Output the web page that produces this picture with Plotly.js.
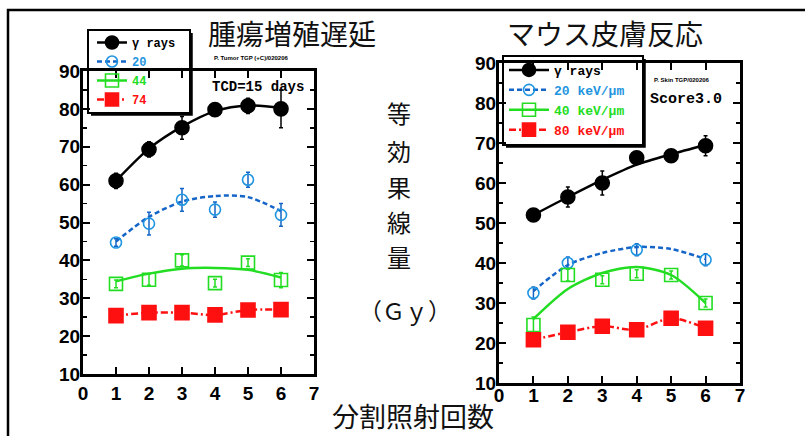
<!DOCTYPE html>
<html><head><meta charset="utf-8">
<script src="https://cdn.plot.ly/plotly-3.0.1.min.js"></script>
<style>html,body{margin:0;padding:0;background:#fff}#chart{width:805px;height:436px}</style>
</head><body><div id="chart"></div>
<script>
// ---------- data ----------
const fractions = [1, 2, 3, 4, 5, 6];
const xTicks = [0, 1, 2, 3, 4, 5, 6, 7];
const yTicks = [10, 20, 30, 40, 50, 60, 70, 80, 90];

// Left panel: tumour growth delay (TCD = 15 days)
const tumorGamma    = [61, 69.3, 75, 79.8, 80.8, 80];
const tumorGammaErr = [2, 2, 3, 1.5, 2, 5];
const tumorGammaFit = [61, 69.5, 75.3, 79.4, 80.9, 80.2];
const tumor20       = [44.7, 49.7, 56, 53.4, 61.3, 52];
const tumor20Err    = [1, 3, 3, 2, 2, 3];
const tumor20Fit    = [45, 51.5, 55.5, 57, 56.7, 53];
const tumor44       = [33.8, 34.9, 40, 34, 39.4, 34.8];
const tumor44Err    = [1, 1.5, 1.5, 1, 1, 2];
const tumor44Fit    = [34.5, 36.5, 37.8, 38, 37.5, 35.5];
const tumor74       = [25.4, 26.2, 26.2, 25.6, 26.9, 27];

// Right panel: mouse skin reaction (score 3.0)
const skinGamma    = [52, 56.5, 60, 66.3, 66.8, 69.3];
const skinGammaErr = [1, 2.5, 3, 1, 1.5, 2.5];
const skinGammaFit = [52, 56.5, 60.8, 64.6, 67.2, 69.5];
const skin20       = [32.5, 40, null, 43.3, null, 40.8];
const skin20Err    = [1.5, 1.5, null, 1.5, null, 1.5];
const skin20Fit    = [33, 39.5, 42.5, 44, 43.5, 41];
const skin40       = [24.5, 37, 35.8, 37.3, 37, 30];
const skin40Err    = [2, 1.5, 1, 1, 1, 1];
const skin40Fit    = [26, 33.5, 37.5, 39, 37, 30];
const skin80       = [20.8, 22.7, 24.2, 23.3, 26.2, 23.7];

const tumorNames = ['γ rays', '20', '44', '74'];
const skinNames  = ['γ rays', '20 keV/μm', '40 keV/μm', '80 keV/μm'];

// ---------- styles ----------
const W = 805, H = 436;
const px = x => x / W, py = y => 1 - y / H;
const BLACK = '#000000', BLUE = '#1f95e0', BLUEL = '#1565c8', GREEN = '#22dd22', RED = '#ff1010';
const DASH = '5px,3px', DASHDOT = '7px,3px,2px,3px';

const styles = [
  {color: BLACK, dash: 'solid', sym: 'circle', size: 14, lc: BLACK},
  {color: BLUE, dash: DASH, sym: 'circle-open', size: 11, lc: BLUEL},
  {color: GREEN, dash: 'solid', sym: 'square-open', size: 13, lc: GREEN},
  {color: RED, dash: DASHDOT, sym: 'square', size: 14, lc: RED}
];

const traces = [];
function addSeries(xa, ya, vals, errs, fit, st) {
  const lineY = fit || vals;
  traces.push({
    x: fractions, y: lineY, xaxis: xa, yaxis: ya, mode: 'lines', showlegend: false,
    line: {color: st.lc, width: 2.5, dash: st.dash, shape: 'spline', smoothing: 0.8},
    hoverinfo: 'skip'
  });
  const t = {
    x: fractions, y: vals, xaxis: xa, yaxis: ya, mode: 'markers', showlegend: false,
    marker: {symbol: st.sym, size: st.size, color: st.color, line: {color: st.color, width: 1.6}}
  };
  if (errs) t.error_y = {type: 'data', array: errs, visible: true, color: st.lc, thickness: 1.5, width: 2};
  traces.push(t);
}
addSeries('x', 'y', tumorGamma, tumorGammaErr, tumorGammaFit, styles[0]);
addSeries('x', 'y', tumor20, tumor20Err, tumor20Fit, styles[1]);
addSeries('x', 'y', tumor44, tumor44Err, tumor44Fit, styles[2]);
addSeries('x', 'y', tumor74, null, null, styles[3]);
addSeries('x2', 'y2', skinGamma, skinGammaErr, skinGammaFit, styles[0]);
addSeries('x2', 'y2', skin20, skin20Err, skin20Fit, styles[1]);
addSeries('x2', 'y2', skin40, skin40Err, skin40Fit, styles[2]);
addSeries('x2', 'y2', skin80, null, null, styles[3]);

// legend entries
function addLegend(names, legendId, xa, ya) {
  names.forEach((n, i) => {
    const st = styles[i];
    traces.push({
      x: [null], y: [null], xaxis: xa, yaxis: ya, mode: 'lines+markers', legend: legendId,
      name: '<span style="color:' + st.color + '">' + n + '</span>',
      line: {color: st.lc, width: 2.5, dash: st.dash},
      marker: {symbol: st.sym, size: Math.min(st.size, 13), color: st.color, line: {color: st.color, width: 1.6}}
    });
  });
}
addLegend(tumorNames, 'legend', 'x', 'y');
addLegend(skinNames, 'legend2', 'x2', 'y2');

const tickFont = {family: 'Liberation Sans, Arial, sans-serif', size: 19, weight: 'bold', color: BLACK};
function xAxis(domain, anchor, standoff) {
  return {
    domain: domain, anchor: anchor, range: [0, 7], tickvals: xTicks, ticktext: xTicks.map(String),
    showline: true, linecolor: BLACK, linewidth: 3, mirror: 'ticks',
    ticks: 'inside', ticklen: 7, tickwidth: 2, tickcolor: BLACK,
    showgrid: false, zeroline: false, tickfont: tickFont, ticklabelstandoff: standoff, fixedrange: true
  };
}
function yAxis(domain, anchor) {
  return {
    domain: domain, anchor: anchor, range: [10, 90], tickvals: yTicks, ticktext: yTicks.map(String),
    showline: true, linecolor: BLACK, linewidth: 3, mirror: 'ticks',
    ticks: 'inside', ticklen: 7, tickwidth: 2, tickcolor: BLACK,
    minor: {dtick: 5, tick0: 0, ticks: 'inside', ticklen: 4, tickwidth: 1.5, tickcolor: BLACK, showgrid: false},
    showgrid: false, zeroline: false, tickfont: tickFont, ticklabelstandoff: -4, fixedrange: true
  };
}

const cjk = 'Noto Sans CJK JP, sans-serif';
const mono = 'Liberation Mono, DejaVu Sans Mono, monospace';
const annotations = [
  {text: '腫瘍増殖遅延', x: px(292), y: py(33), font: {family: cjk, size: 28, color: '#111'}},
  {text: 'マウス皮膚反応', x: px(605), y: py(33), font: {family: cjk, size: 28, color: '#111'}},
  {text: '分割照射回数', x: px(413), y: py(415), font: {family: cjk, size: 27, color: '#111'}},
  {text: '（Ｇｙ）', x: px(405), y: py(310), font: {family: cjk, size: 23, color: '#111'}},
  {text: 'P. Tumor TGP (+C)/020206', x: px(212), y: py(58), xanchor: 'left', font: {family: 'Liberation Sans', size: 6, weight: 'bold', color: BLACK}},
  {text: 'P. Skin TGP/020206', x: px(652), y: py(80), xanchor: 'left', font: {family: 'Liberation Sans', size: 6, weight: 'bold', color: BLACK}},
  {text: 'TCD=15 days', x: px(210), y: py(87), xanchor: 'left', font: {family: mono, size: 14, weight: 'bold', color: BLACK}},
  {text: 'Score3.0', x: px(648), y: py(99), xanchor: 'left', font: {family: mono, size: 15, weight: 'bold', color: BLACK}}
];
const yLabelChars = ['等', '効', '果', '線', '量'];
const yLabelPos = [113, 150, 186, 222, 256];
yLabelChars.forEach((c, i) => annotations.push({text: c, x: px(399), y: py(yLabelPos[i]), font: {family: cjk, size: 24, color: '#111'}}));
annotations.forEach(a => { a.xref = 'paper'; a.yref = 'paper'; a.showarrow = false; if (!a.xanchor) a.xanchor = 'center'; a.yanchor = 'middle'; });

function boxShapes(x0, y0, x1, y1) {
  return [
    {type: 'rect', xref: 'paper', yref: 'paper', x0: px(x0), x1: px(x1), y0: py(y1), y1: py(y0), line: {color: BLACK, width: 2}},
    {type: 'path', xref: 'paper', yref: 'paper',
     path: `M ${px(x0 + 3)} ${py(y1 + 1.5)} L ${px(x1 + 1.5)} ${py(y1 + 1.5)} L ${px(x1 + 1.5)} ${py(y0 + 3)}`,
     line: {color: BLACK, width: 2.5}}
  ];
}
const shapes = [
  {type: 'path', xref: 'paper', yref: 'paper', path: `M ${px(8)} ${py(440)} L ${px(8)} ${py(10)} L ${px(810)} ${py(10)}`, line: {color: BLACK, width: 2.5}},
  ...boxShapes(88, 30, 190, 113),
  ...boxShapes(503, 56, 643, 145)
];

const legendBase = {bgcolor: 'rgba(0,0,0,0)', borderwidth: 0, xanchor: 'left', yanchor: 'top', traceorder: 'normal'};
const layout = {
  width: W, height: H, autosize: false, margin: {l: 0, r: 0, t: 0, b: 0},
  paper_bgcolor: '#fff', plot_bgcolor: 'rgba(0,0,0,0)', showlegend: true,
  xaxis: xAxis([px(83), px(314)], 'y', 0),
  yaxis: yAxis([py(374), py(71)], 'x'),
  xaxis2: xAxis([px(499), px(740)], 'y2', -7),
  yaxis2: yAxis([py(383), py(63)], 'x2'),
  legend: Object.assign({}, legendBase, {x: px(92), y: py(28), itemwidth: 30,
    font: {family: mono, size: 12, weight: 'bold', color: BLACK}}),
  legend2: Object.assign({}, legendBase, {x: px(504), y: py(55), itemwidth: 40,
    font: {family: mono, size: 13, weight: 'bold', color: BLACK}}),
  annotations: annotations, shapes: shapes
};
Plotly.newPlot('chart', traces, layout, {staticPlot: true, displayModeBar: false});
</script></body></html>
